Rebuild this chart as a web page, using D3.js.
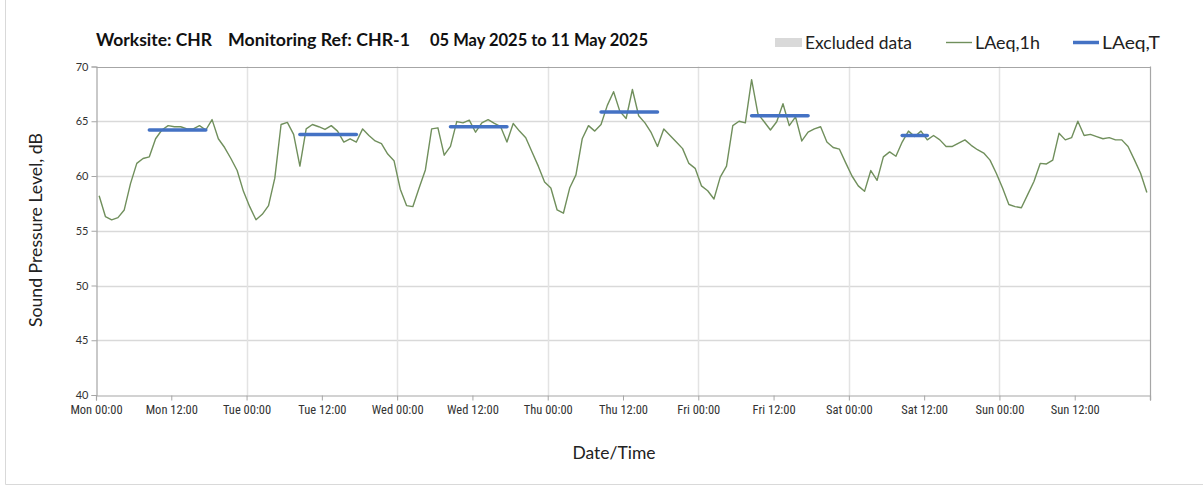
<!DOCTYPE html>
<html><head><meta charset="utf-8">
<script src="https://cdn.jsdelivr.net/npm/d3@7"></script>
<style>body{margin:0;background:#fff;} svg{display:block;}</style>
</head><body>
<svg id="c" width="1203" height="486"></svg>
<script>
// ---- data ----
const laeq1h = [
58.2,56.3,56.0,56.2,56.9,59.3,61.15,61.6,61.75,63.4,64.2,64.6,64.5,64.5,64.3,64.3,64.6,64.2,65.15,63.4,62.6,61.6,60.5,58.6,
57.2,56.0,56.5,57.3,59.8,64.7,64.9,63.8,60.9,64.3,64.7,64.5,64.25,64.6,64.1,63.1,63.4,63.1,64.3,63.7,63.2,62.95,62.0,61.4,
58.8,57.3,57.2,58.9,60.55,64.3,64.4,61.9,62.7,64.97,64.85,65.1,64.0,64.85,65.15,64.8,64.5,63.1,64.8,64.1,63.5,62.2,60.9,59.45,
58.9,56.9,56.6,58.9,60.1,63.4,64.6,64.1,64.7,66.45,67.7,65.9,65.25,67.9,65.5,64.85,63.95,62.7,64.3,63.7,63.1,62.5,61.15,60.7,
59.1,58.65,57.9,59.9,60.9,64.6,65.0,64.85,68.8,65.7,64.95,64.2,64.95,66.6,64.6,65.4,63.2,64.0,64.3,64.5,63.1,62.6,62.45,61.2,
60.0,59.1,58.6,60.5,59.6,61.75,62.2,61.8,63.1,64.1,63.6,64.1,63.3,63.7,63.3,62.7,62.7,63.0,63.3,62.8,62.4,62.1,61.45,60.25,
58.9,57.4,57.2,57.1,58.3,59.5,61.15,61.1,61.45,63.9,63.3,63.5,65.0,63.7,63.8,63.6,63.4,63.5,63.3,63.3,62.7,61.5,60.25,58.5
];
// LAeq,T periods: start hour index, end hour index (inclusive), level
const periodStart = [8, 32, 56, 80, 104, 128];
const periodEnd   = [17, 41, 65, 89, 113, 132];
const periodLevel = [64.2, 63.8, 64.5, 65.85, 65.5, 63.7];
const dayNames = ["Mon","Tue","Wed","Thu","Fri","Sat","Sun"];
const yTicks = [40,45,50,55,60,65,70];
const titleParts = ["Worksite: CHR","Monitoring Ref: CHR-1","05 May 2025 to 11 May 2025"];
const legendLabels = ["Excluded data","LAeq,1h","LAeq,T"];

// ---- layout ----
const svg = d3.select("#c");
const L = 96, R = 1150, T = 66.5, B = 395;
const x = d3.scaleLinear().domain([0,168]).range([L,R]);
const y = d3.scaleLinear().domain([40,70]).range([B,T]);
const font = "Lato, 'Open Sans', sans-serif";

// outer frame (left & bottom visible)
svg.append("line").attr("x1",5.5).attr("x2",5.5).attr("y1",0).attr("y2",484.5).attr("stroke","#d9d9d9");
svg.append("line").attr("x1",5.5).attr("x2",1203).attr("y1",484.5).attr("y2",484.5).attr("stroke","#d9d9d9");

// horizontal gridlines
svg.append("g").selectAll("line").data(yTicks.filter(d=>d>40 && d<70)).join("line")
  .attr("x1",L).attr("x2",R).attr("y1",d=>Math.round(y(d))+0.5).attr("y2",d=>Math.round(y(d))+0.5)
  .attr("stroke","#d9d9d9").attr("stroke-width",1.5);
// vertical day gridlines
const dayHours = d3.range(24,168,24);
svg.append("g").selectAll("line").data(dayHours).join("line")
  .attr("x1",d=>Math.round(x(d))+0.5).attr("x2",d=>Math.round(x(d))+0.5).attr("y1",T).attr("y2",B)
  .attr("stroke","#e3e3e3").attr("stroke-width",1.5);
// top border & right border
svg.append("line").attr("x1",L).attr("x2",R).attr("y1",Math.round(T)+0.5).attr("y2",Math.round(T)+0.5).attr("stroke","#a6a6a6").attr("stroke-width",1.2);
svg.append("line").attr("x1",R+0.5).attr("x2",R+0.5).attr("y1",T).attr("y2",B+5).attr("stroke","#a6a6a6").attr("stroke-width",1.2);

// x axis
const xAxis = d3.axisBottom(x).tickValues(d3.range(0,169,12)).tickSize(5)
  .tickFormat(d => d>=168 ? "" : dayNames[Math.floor(d/24)] + " " + (d%24===0?"00:00":"12:00"));
const gx = svg.append("g").attr("transform",`translate(0,${Math.round(B)+0.5})`).call(xAxis);
gx.select(".domain").attr("stroke","#a6a6a6").attr("stroke-width",1.2);
gx.selectAll(".tick line").attr("stroke","#a6a6a6");
gx.selectAll(".tick text").attr("font-family","'Liberation Sans Narrow', 'Roboto Condensed', sans-serif")
  .attr("font-size",12.5).attr("fill","#333").attr("dy","0.85em");

// y axis
const yAxis = d3.axisLeft(y).tickValues(yTicks).tickSize(5).tickFormat(d3.format("d"));
const gy = svg.append("g").attr("transform",`translate(${L+0.5},0)`).call(yAxis);
gy.select(".domain").attr("stroke","#a6a6a6").attr("stroke-width",1.2);
gy.selectAll(".tick line").attr("stroke","#a6a6a6");
gy.selectAll(".tick text").attr("font-family",font).attr("font-size",11).attr("fill","#333").attr("x",-8);

// LAeq,1h line
const line = d3.line().x((d,i)=>x(i+0.5)).y(d=>y(d));
svg.append("path").datum(laeq1h).attr("d",line).attr("fill","none")
  .attr("stroke","#708f5c").attr("stroke-width",1.4).attr("stroke-linejoin","round");

// LAeq,T bars
svg.append("g").selectAll("line").data(periodLevel).join("line")
  .attr("x1",(d,i)=>x(periodStart[i]+0.5)).attr("x2",(d,i)=>x(periodEnd[i]+0.5))
  .attr("y1",d=>y(d)).attr("y2",d=>y(d))
  .attr("stroke","#4472c4").attr("stroke-width",3.5).attr("stroke-linecap","round");

// title
const titleX = [96, 228, 430];
const titleW = [116, 182, 218];
svg.append("g").selectAll("text").data(titleParts).join("text")
  .attr("x",(d,i)=>titleX[i]).attr("y",46).text(d=>d)
  .attr("textLength",(d,i)=>titleW[i]).attr("lengthAdjust","spacingAndGlyphs")
  .attr("font-family",font).attr("font-weight","bold").attr("font-size",16.5).attr("fill","#111");

// legend
const legX = [805, 975, 1102];
const legW = [107, 65, 58];
svg.append("rect").attr("x",775).attr("y",38).attr("width",27).attr("height",9).attr("fill","#d9d9d9");
svg.append("line").attr("x1",946).attr("x2",972).attr("y1",42.5).attr("y2",42.5).attr("stroke","#708f5c").attr("stroke-width",1.4);
svg.append("line").attr("x1",1073).attr("x2",1099).attr("y1",42.5).attr("y2",42.5).attr("stroke","#4472c4").attr("stroke-width",3.5);
svg.append("g").selectAll("text").data(legendLabels).join("text")
  .attr("x",(d,i)=>legX[i]).attr("y",48.5).text(d=>d)
  .attr("textLength",(d,i)=>legW[i]).attr("lengthAdjust","spacingAndGlyphs")
  .attr("font-family",font).attr("font-size",16.5).attr("fill","#222");

// axis titles
svg.append("text").attr("transform","translate(42,230) rotate(-90)").attr("text-anchor","middle")
  .text("Sound Pressure Level, dB").attr("textLength",194).attr("lengthAdjust","spacingAndGlyphs")
  .attr("font-family",font).attr("font-size",16.5).attr("fill","#222");
svg.append("text").attr("x",614).attr("y",459).attr("text-anchor","middle")
  .text("Date/Time").attr("textLength",83).attr("lengthAdjust","spacingAndGlyphs")
  .attr("font-family",font).attr("font-size",16.5).attr("fill","#222");
</script>
</body></html>
